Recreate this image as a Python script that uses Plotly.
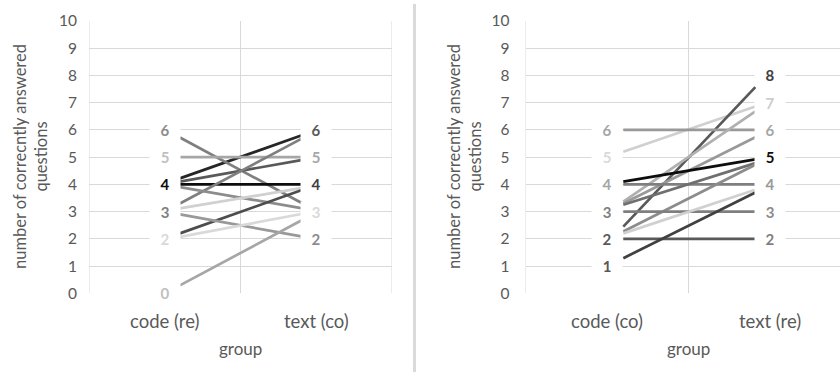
import plotly.graph_objects as go

# ---- data ----
categories_left = ["code (re)", "text (co)"]
categories_right = ["code (co)", "text (re)"]
y_ticks = list(range(0, 11))

left_code = [4.22, 5.72, 5.0, 4.1, 4.0, 3.3, 3.9, 3.12, 2.2, 2.9, 2.07, 0.29]
left_text = [5.81, 3.3, 5.0, 4.9, 4.0, 5.7, 3.12, 3.87, 3.8, 2.08, 2.92, 2.7]
left_colors = ["#262626", "#7f7f7f", "#a6a6a6", "#595959", "#0d0d0d", "#7f7f7f",
               "#8c8c8c", "#d0d0d0", "#4d4d4d", "#999999", "#d9d9d9", "#a6a6a6"]

right_code = [5.2, 2.45, 6.0, 3.37, 3.3, 4.1, 4.0, 3.25, 2.27, 3.0, 2.2, 2.0, 1.29]
right_text = [6.86, 7.57, 6.0, 6.68, 5.73, 4.92, 4.0, 4.78, 4.72, 3.0, 3.8, 2.0, 3.7]
right_colors = ["#d0d0d0", "#595959", "#999999", "#b0b0b0", "#999999", "#0d0d0d",
                "#7f7f7f", "#6f6f6f", "#8c8c8c", "#7f7f7f", "#d0d0d0", "#595959", "#404040"]

left_code_labels = [6, 5, 4, 3, 2, 0]
left_code_label_colors = ["#8c8c8c", "#bfbfbf", "#0d0d0d", "#7f7f7f", "#d9d9d9", "#bfbfbf"]
left_text_labels = [6, 5, 4, 3, 2]
left_text_label_colors = ["#595959", "#a6a6a6", "#404040", "#d9d9d9", "#8c8c8c"]

right_code_labels = [6, 5, 4, 3, 2, 1]
right_code_label_colors = ["#a6a6a6", "#d9d9d9", "#a6a6a6", "#7f7f7f", "#595959", "#595959"]
right_text_labels = [8, 7, 6, 5, 4, 3, 2]
right_text_label_colors = ["#404040", "#cccccc", "#a6a6a6", "#0d0d0d", "#999999", "#8c8c8c", "#7f7f7f"]

y_title = "number of correcntly answered<br>questions"
x_title = "group"

# ---- styling ----
FONT = "Lato, 'Open Sans', sans-serif"
TXT = "#595959"
GRID = "#d9d9d9"
X0, X1 = 0.6, 1.41

W, H = 840, 372
plot_top, plot_bottom = 21, 293.3
ydom = [1 - plot_bottom / H, 1 - plot_top / H]

fig = go.Figure()

def add_panel(code, text, colors, xa, ya):
    for c, t, col in zip(code, text, colors):
        fig.add_trace(go.Scatter(x=[X0, X1], y=[c, t], mode="lines",
                                 line=dict(color=col, width=2.7),
                                 xaxis=xa, yaxis=ya, showlegend=False,
                                 hoverinfo="skip"))

add_panel(left_code, left_text, left_colors, "x", "y")
add_panel(right_code, right_text, right_colors, "x2", "y2")

annotations = []

def add_labels(vals, cols, xpos, xref, yref):
    for v, c in zip(vals, cols):
        annotations.append(dict(x=xpos, y=v, xref=xref, yref=yref, text=str(v),
                                showarrow=False, bgcolor="white", width=28, height=18,
                                font=dict(family=FONT, size=15, color=c, weight="bold"),
                                xanchor="center", yanchor="middle"))

add_labels(left_code_labels, left_code_label_colors, 0.5, "x", "y")
add_labels(left_text_labels, left_text_label_colors, 1.5, "x", "y")
add_labels(right_code_labels, right_code_label_colors, 0.5, "x2", "y2")
add_labels(right_text_labels, right_text_label_colors, 1.5, "x2", "y2")

# category labels
for xref, cats in (("x", categories_left), ("x2", categories_right)):
    for i, cat in enumerate(cats):
        annotations.append(dict(x=i + 0.5, y=1 - 320.5 / H, xref=xref, yref="paper",
                                text=cat, showarrow=False, xanchor="center", yanchor="middle",
                                font=dict(family=FONT, size=18.5, color=TXT)))
    annotations.append(dict(x=1, y=1 - 348 / H, xref=xref, yref="paper", text=x_title,
                            showarrow=False, xanchor="center", yanchor="middle",
                            font=dict(family=FONT, size=17, color=TXT)))

# y titles
for xpx in (30, 464):
    annotations.append(dict(x=xpx / W, y=1 - 157 / H, xref="paper", yref="paper",
                            text=y_title, textangle=-90, showarrow=False,
                            xanchor="center", yanchor="middle",
                            font=dict(family=FONT, size=16.5, color=TXT)))

shapes = []
for xref, yref in (("x", "y"), ("x2", "y2")):
    for xv in (0, 1, 2):
        shapes.append(dict(type="line", xref=xref, yref=yref, x0=xv, x1=xv, y0=0, y1=10,
                           line=dict(color=GRID, width=1), layer="below"))
shapes.append(dict(type="line", xref="paper", yref="paper", x0=414.5 / W, x1=414.5 / W,
                   y0=0, y1=1 - 4 / H, line=dict(color="#dadada", width=3)))

yaxis_common = dict(range=[0, 10], tickvals=y_ticks, showgrid=True, gridcolor=GRID,
                    gridwidth=1, zeroline=False, showline=False, ticks="",
                    tickfont=dict(family=FONT, size=15.5, color=TXT), domain=ydom,
                    fixedrange=True, automargin=False)

fig.update_layout(
    template="none",
    width=W, height=H, margin=dict(l=0, r=0, t=0, b=0, pad=0, autoexpand=False),
    autosize=False,
    paper_bgcolor="white", plot_bgcolor="white",
    xaxis=dict(domain=[89 / W, 392 / W], range=[0, 2], showgrid=False, zeroline=False,
               showticklabels=False, ticks="", anchor="y", automargin=False, showline=False),
    xaxis2=dict(domain=[525.5 / W, 1], range=[0, (W - 525.5) / 163], showgrid=False,
                zeroline=False, showticklabels=False, ticks="", anchor="y2",
                automargin=False, showline=False),
    yaxis=dict(anchor="x", ticklabelstandoff=11, **yaxis_common),
    yaxis2=dict(anchor="x2", ticklabelstandoff=15, **yaxis_common),
    annotations=annotations, shapes=shapes,
)

fig.write_html("out.html", config={"responsive": False, "displayModeBar": False},
               post_script="document.body.style.margin='0px';document.body.style.overflow='hidden';")
